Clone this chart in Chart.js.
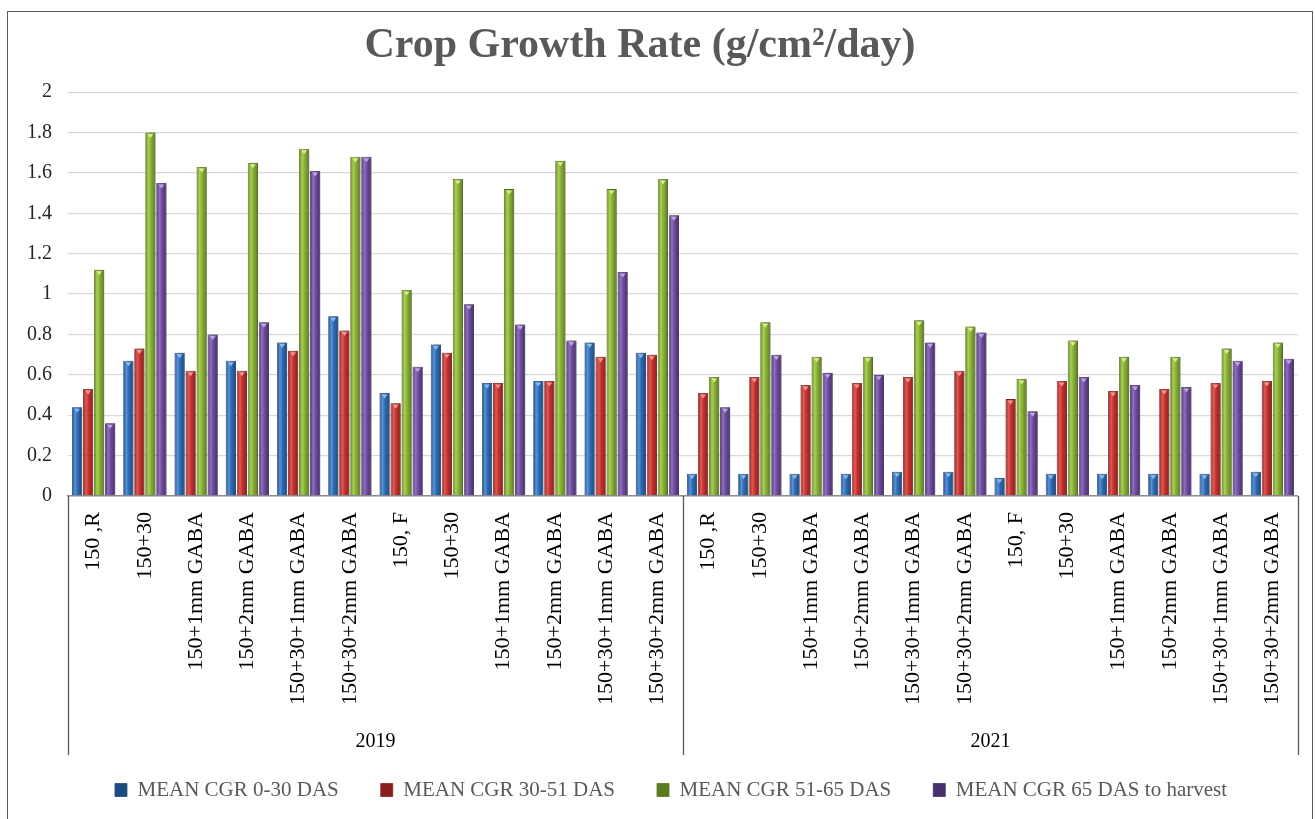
<!DOCTYPE html>
<html>
<head>
<meta charset="utf-8">
<title>Crop Growth Rate</title>
<script src="https://cdn.jsdelivr.net/npm/chart.js@4.4.0/dist/chart.umd.min.js"></script>
<style>
    html, body { margin: 0; padding: 0; background: #fff; overflow: hidden; }
    #frame { position: absolute; left: 7px; top: 11px; width: 1306px; height: 830px; border: 1.5px solid #5a5a5a; box-sizing: border-box; }
    #wrap { position: absolute; left: 0; top: 0; width: 1315px; height: 819px; }
</style>
</head>
<body>
<div id="frame"></div>
<div id="wrap"><canvas id="cgrChart"></canvas></div>
<script>
// Data
const years = ['2019', '2021'];
const treatments = ['150 ,R', '150+30', '150+1mm GABA', '150+2mm GABA', '150+30+1mm GABA', '150+30+2mm GABA',
    '150, F', '150+30', '150+1mm GABA', '150+2mm GABA', '150+30+1mm GABA', '150+30+2mm GABA'];
const yTicks = [0, 0.2, 0.4, 0.6, 0.8, 1, 1.2, 1.4, 1.6, 1.8, 2];

const cgr0to30 = [0.44, 0.67, 0.71, 0.67, 0.76, 0.89, 0.51, 0.75, 0.56, 0.57, 0.76, 0.71,
    0.11, 0.11, 0.11, 0.11, 0.12, 0.12, 0.09, 0.11, 0.11, 0.11, 0.11, 0.12];
const cgr30to51 = [0.53, 0.73, 0.62, 0.62, 0.72, 0.82, 0.46, 0.71, 0.56, 0.57, 0.69, 0.70,
    0.51, 0.59, 0.55, 0.56, 0.59, 0.62, 0.48, 0.57, 0.52, 0.53, 0.56, 0.57];
const cgr51to65 = [1.12, 1.80, 1.63, 1.65, 1.72, 1.68, 1.02, 1.57, 1.52, 1.66, 1.52, 1.57,
    0.59, 0.86, 0.69, 0.69, 0.87, 0.84, 0.58, 0.77, 0.69, 0.69, 0.73, 0.76];
const cgr65toHarvest = [0.36, 1.55, 0.80, 0.86, 1.61, 1.68, 0.64, 0.95, 0.85, 0.77, 1.11, 1.39,
    0.44, 0.70, 0.61, 0.60, 0.76, 0.81, 0.42, 0.59, 0.55, 0.54, 0.67, 0.68];

const seriesNames = ['MEAN CGR 0-30 DAS', 'MEAN CGR 30-51 DAS', 'MEAN CGR 51-65 DAS', 'MEAN CGR 65 DAS to harvest'];
const seriesColors = [
    { dark: '#1d4a80', base: '#2d6ab2', light: '#5a92d6', cap: '#8fb9ea' },
    { dark: '#8a201e', base: '#c3312d', light: '#df5b56', cap: '#f09a96' },
    { dark: '#5c7b20', base: '#88b037', light: '#a9cf57', cap: '#d4ee8c' },
    { dark: '#47306c', base: '#6d4c9c', light: '#9070bf', cap: '#bea6e0' }
];

const labels = years.flatMap(() => treatments);
const CAT_PCT = 0.86;
const BAR_PCT = 0.93;
const FONT = "'Liberation Serif', 'Times New Roman', serif";

// horizontal shading so the bars look like the cylinders in the original
function barFill(ctx, colors) {
    const chart = ctx.chart;
    const x = chart.scales && chart.scales.x;
    if (ctx.type !== 'data' || !x) return colors.base;
    const slot = (x.width / labels.length) * CAT_PCT / 4;
    const w = slot * BAR_PCT;
    const cx = x.getPixelForValue(ctx.dataIndex) + (ctx.datasetIndex - 1.5) * slot;
    if (!isFinite(cx) || !isFinite(w) || w <= 0) return colors.base;
    const g = chart.ctx.createLinearGradient(cx - w / 2, 0, cx + w / 2, 0);
    g.addColorStop(0, colors.dark);
    g.addColorStop(0.3, colors.light);
    g.addColorStop(0.55, colors.base);
    g.addColorStop(1, colors.dark);
    return g;
}

// soft drop shadow behind the bars, lighter wedge on top of each one
const barCaps = {
    id: 'barCaps',
    beforeDatasetsDraw(chart) {
        const c = chart.ctx;
        c.save();
        c.shadowColor = 'rgba(0, 0, 0, 0.35)';
        c.shadowBlur = 2;
        c.shadowOffsetX = 1.5;
        c.shadowOffsetY = 0;
    },
    afterDatasetsDraw(chart) {
        const c = chart.ctx;
        c.restore();
        c.save();
        chart.data.datasets.forEach((ds, di) => {
            chart.getDatasetMeta(di).data.forEach(bar => {
                const hw = bar.width * 0.28;
                c.beginPath();
                c.moveTo(bar.x - hw, bar.y + 1.5);
                c.lineTo(bar.x + hw, bar.y + 1.5);
                c.lineTo(bar.x, bar.y + 5.5);
                c.closePath();
                c.fillStyle = seriesColors[di].cap;
                c.fill();
            });
        });
        c.restore();
    }
};

// nudge title and legend to where they sit in the original
const blockShift = {
    id: 'blockShift',
    afterLayout(chart) {
        if (chart.titleBlock) { chart.titleBlock.left -= 15; chart.titleBlock.right -= 15; }
        if (chart.legend) { chart.legend.left += 16; chart.legend.right += 16; }
    }
};

// year group labels and separators under the category labels
const yearGroups = {
    id: 'yearGroups',
    afterDraw(chart) {
        const x = chart.scales.x;
        const c = chart.ctx;
        const n = treatments.length;
        const top = chart.chartArea.bottom;
        c.save();
        c.strokeStyle = '#595959';
        c.lineWidth = 1.3;
        for (let g = 0; g <= years.length; g++) {
            let px;
            if (g === 0) px = x.left;
            else if (g === years.length) px = x.right;
            else px = (x.getPixelForValue(g * n - 1) + x.getPixelForValue(g * n)) / 2;
            px = Math.round(px) + 0.5;
            c.beginPath();
            c.moveTo(px, top);
            c.lineTo(px, top + 259);
            c.stroke();
        }
        c.fillStyle = '#000';
        c.font = '20px ' + FONT;
        c.textAlign = 'center';
        c.textBaseline = 'middle';
        years.forEach((yr, g) => {
            const mid = (x.getPixelForValue(g * n) + x.getPixelForValue(g * n + n - 1)) / 2;
            c.fillText(yr, mid, top + 246);
        });
        c.restore();
    }
};

const datasets = [cgr0to30, cgr30to51, cgr51to65, cgr65toHarvest].map((values, i) => ({
    label: seriesNames[i],
    data: values,
    backgroundColor: ctx => barFill(ctx, seriesColors[i]),
    borderColor: seriesColors[i].dark,
    borderWidth: 0.8,
    categoryPercentage: CAT_PCT,
    barPercentage: BAR_PCT
}));

new Chart(document.getElementById('cgrChart'), {
    type: 'bar',
    data: { labels: labels, datasets: datasets },
    options: {
        responsive: true,
        maintainAspectRatio: false,
        animation: false,
        events: [],
        layout: { padding: { top: 12, left: 8, right: 13, bottom: 8.5 } },
        plugins: {
            title: {
                display: true,
                text: 'Crop Growth Rate (g/cm²/day)',
                color: '#595959',
                font: { family: FONT, size: 42, weight: 'bold' },
                padding: { top: 9, bottom: 20.8 }
            },
            legend: {
                position: 'bottom',
                labels: {
                    color: '#595959',
                    font: { family: FONT, size: 21 },
                    boxWidth: 12,
                    boxHeight: 13,
                    padding: 42
                }
            },
            tooltip: { enabled: false }
        },
        scales: {
            x: {
                grid: { display: false, drawTicks: false },
                border: { display: true, color: '#8c8c8c', width: 1.5 },
                ticks: {
                    autoSkip: false,
                    minRotation: 90,
                    maxRotation: 90,
                    padding: 16,
                    color: '#000',
                    font: { family: FONT, size: 22 }
                },
                afterFit(scale) { scale.height = 241.5; }
            },
            y: {
                min: yTicks[0],
                max: yTicks[yTicks.length - 1],
                afterBuildTicks(scale) { scale.ticks = yTicks.map(v => ({ value: v })); },
                grid: { color: '#d9d9d9', lineWidth: 1.3, drawTicks: false },
                border: { display: false },
                ticks: {
                    padding: 16,
                    color: '#262626',
                    font: { family: FONT, size: 20 },
                    callback: v => String(Math.round(v * 10) / 10)
                },
                afterFit(scale) { scale.width = 60; }
            }
        }
    },
    plugins: [barCaps, blockShift, yearGroups]
});
</script>
</body>
</html>
